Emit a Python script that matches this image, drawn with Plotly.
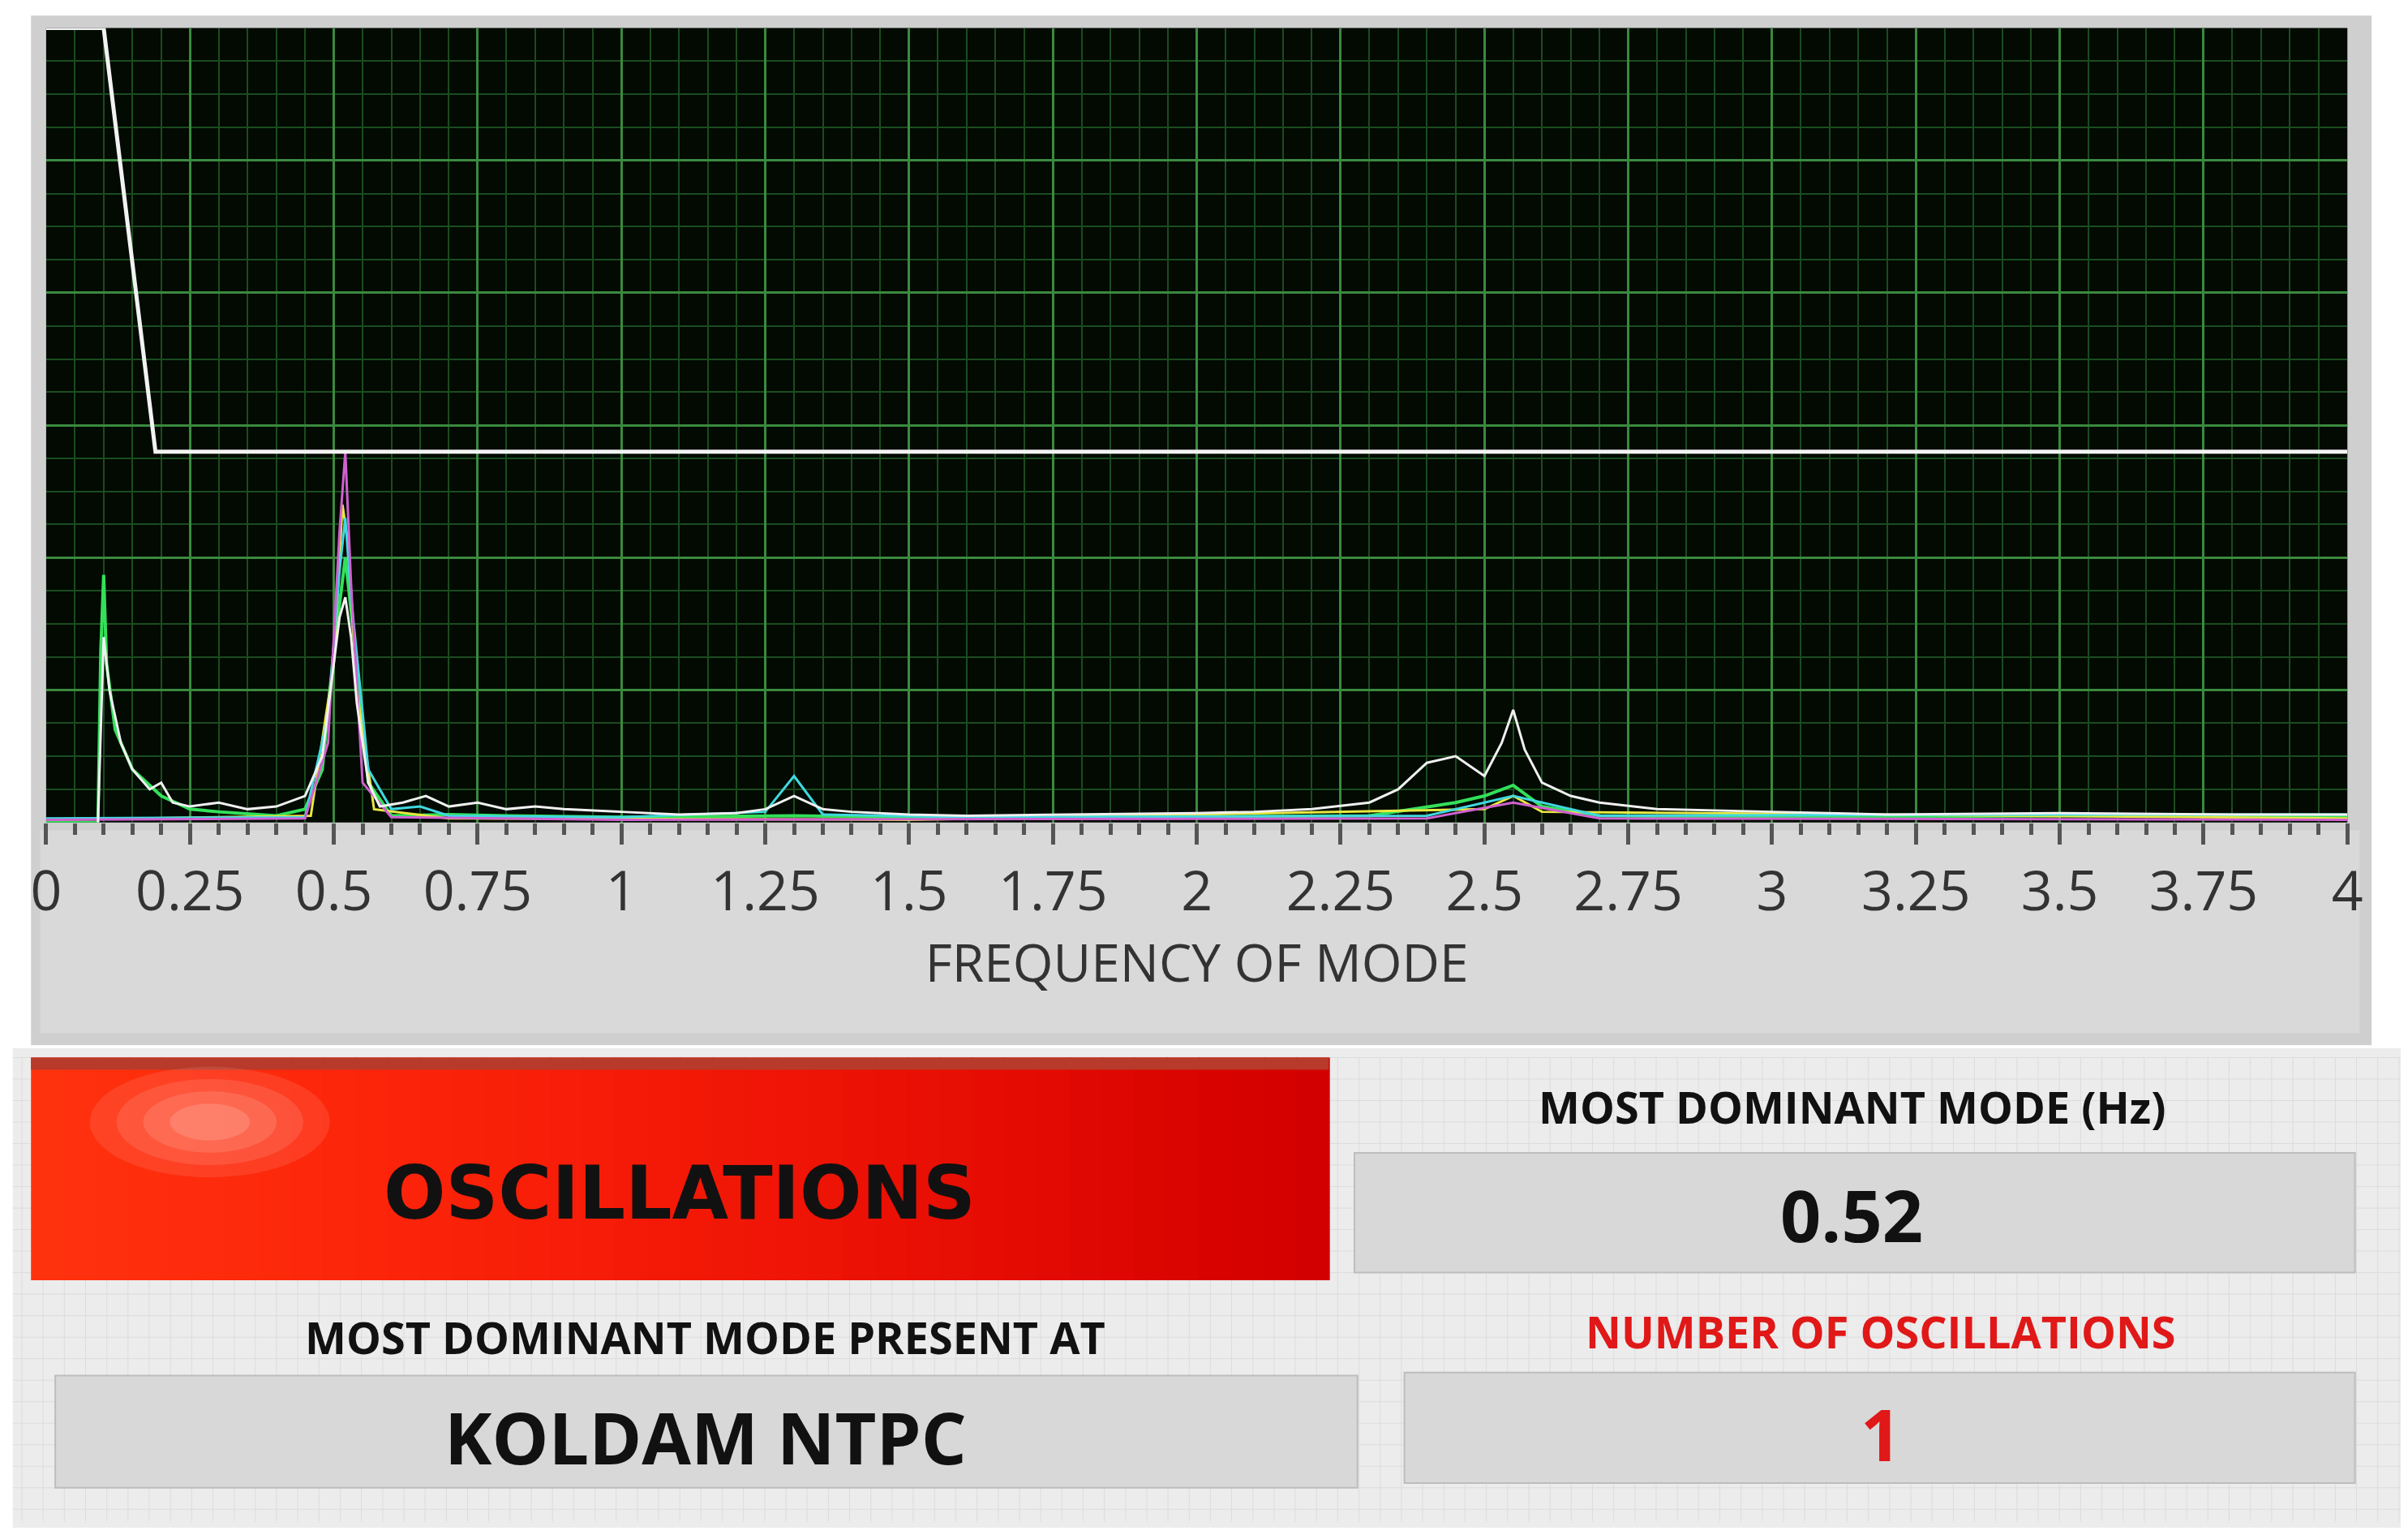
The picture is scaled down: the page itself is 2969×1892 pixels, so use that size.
import plotly.graph_objects as go

# ---------------- data ----------------
threshold_freq = [0, 0.1, 0.19, 4.0]
threshold_amp = [6.0, 6.0, 2.8, 2.8]

white_freq = [0.09,0.1,0.11,0.13,0.15,0.18,0.2,0.22,0.25,0.3,0.35,0.4,0.45,0.48,0.5,0.51,0.52,0.53,0.54,0.56,0.58,0.62,0.66,0.7,0.75,0.8,0.85,0.9,1.0,1.1,1.2,1.25,1.3,1.35,1.4,1.5,1.6,1.8,2.0,2.1,2.2,2.3,2.35,2.4,2.45,2.5,2.53,2.55,2.57,2.6,2.65,2.7,2.8,3.0,3.2,3.5,3.8,4.0]
white_amp = [0,1.4,1.0,0.6,0.4,0.25,0.3,0.15,0.12,0.15,0.1,0.12,0.2,0.5,1.2,1.55,1.7,1.4,0.9,0.3,0.12,0.15,0.2,0.12,0.15,0.1,0.12,0.1,0.08,0.06,0.07,0.1,0.2,0.1,0.08,0.06,0.05,0.06,0.07,0.08,0.1,0.15,0.25,0.45,0.5,0.35,0.6,0.85,0.55,0.3,0.2,0.15,0.1,0.08,0.06,0.07,0.06,0.06]

green_freq = [0.0,0.09,0.095,0.1,0.105,0.12,0.15,0.2,0.25,0.3,0.4,0.45,0.48,0.5,0.52,0.54,0.56,0.6,0.7,0.8,1.0,1.3,1.6,2.0,2.3,2.45,2.5,2.55,2.6,2.7,3.0,3.5,4.0]
green_amp = [0.0,0.0,1.3,1.87,1.2,0.7,0.4,0.2,0.1,0.08,0.05,0.1,0.4,1.3,2.0,1.2,0.3,0.05,0.06,0.05,0.04,0.05,0.03,0.04,0.05,0.15,0.2,0.28,0.12,0.05,0.04,0.05,0.05]

magenta_freq = [0.0,0.45,0.49,0.51,0.52,0.53,0.55,0.6,1.0,2.4,2.55,2.7,4.0]
magenta_amp = [0.02,0.03,0.6,2.2,2.8,1.8,0.3,0.04,0.02,0.03,0.15,0.03,0.02]

cyan_freq = [0.0,0.45,0.49,0.51,0.52,0.53,0.56,0.6,0.65,0.7,1.0,1.25,1.3,1.35,1.6,2.4,2.55,2.7,3.5,4.0]
cyan_amp = [0.03,0.04,0.8,1.9,2.3,1.7,0.4,0.1,0.12,0.05,0.04,0.08,0.35,0.06,0.04,0.05,0.2,0.05,0.06,0.06]

yellow_freq = [0.0,0.46,0.5,0.515,0.525,0.54,0.57,0.7,1.5,2.5,2.55,2.6,4.0]
yellow_amp = [0.02,0.05,1.2,2.4,2.1,1.0,0.1,0.03,0.02,0.1,0.2,0.08,0.03]

x_ticks = [0, 0.25, 0.5, 0.75, 1, 1.25, 1.5, 1.75, 2, 2.25, 2.5, 2.75, 3, 3.25, 3.5, 3.75, 4]
x_labels = ["0", "0.25", "0.5", "0.75", "1", "1.25", "1.5", "1.75", "2", "2.25", "2.5", "2.75", "3", "3.25", "3.5", "3.75", "4"]

status_text = "OSCILLATIONS"
mode_label = "MOST DOMINANT MODE (Hz)"
mode_value = "0.52"
loc_label = "MOST DOMINANT MODE PRESENT AT"
loc_value = "KOLDAM NTPC"
count_label = "NUMBER OF OSCILLATIONS"
count_value = "1"

# ---------------- layout helpers ----------------
W, H = 2952, 1875
def px(x): return (x - 6.0) / 1559.0
def py(y): return 1 - (y - 4.0) / 990.0

fig = go.Figure()
series = [
    (green_freq, green_amp, "#33e05a", 4),
    (yellow_freq, yellow_amp, "#e8e840", 3),
    (cyan_freq, cyan_amp, "#40d8e0", 3),
    (magenta_freq, magenta_amp, "#d060d0", 3),
    (white_freq, white_amp, "#f0f0f0", 3),
    (threshold_freq, threshold_amp, "#f2f2f2", 5),
]
for fx, fy, col, w in series:
    fig.add_trace(go.Scatter(x=fx, y=fy, mode="lines", line=dict(color=col, width=w), showlegend=False))

shapes = []
def rect(x0, y0, x1, y1, fill, line=None, layer="below", kind="rect"):
    shapes.append(dict(type=kind, xref="paper", yref="paper", x0=px(x0), x1=px(x1), y0=py(y1), y1=py(y0),
                       fillcolor=fill, line=dict(width=0 if line is None else 2, color=line or fill), layer=layer))

rect(0, 682, 1580, 1010, "#ececec")
for gx in range(6, 1580, 14):
    shapes.append(dict(type="line", xref="paper", yref="paper", x0=px(gx), x1=px(gx), y0=py(990), y1=py(688),
                       line=dict(color="#dcdcdc", width=1), layer="below"))
for gy in range(688, 990, 14):
    shapes.append(dict(type="line", xref="paper", yref="paper", x0=px(0), x1=px(1580), y0=py(gy), y1=py(gy),
                       line=dict(color="#dcdcdc", width=1), layer="below"))
rect(12, 10, 1556, 680, "#cfcfcf")
rect(18, 540, 1548, 672, "#d9d9d9")
rect(22, 18, 1540, 535, "#020a02")
n = 40
step = (868 - 12) / n
for i in range(n):
    t = i / (n - 1)
    r = int(255 - 45 * t ** 2)
    g = int(50 - 50 * t)
    b = int(14 - 14 * t)
    rect(12 + i * step, 688, 12 + (i + 1) * step + 0.8, 833, "rgb(%d,%d,%d)" % (r, max(g, 0), max(b, 0)))
rect(12, 688, 868, 696, "#b83a2a")
for k, a in enumerate([0.12, 0.14, 0.16, 0.2]):
    d = 36 - 8 * k
    rect(130 - 2.2 * d, 730 - d, 130 + 2.2 * d, 730 + d, "rgba(255,215,205,%.2f)" % a, kind="circle")
rect(885, 750, 1545, 828, "#d8d8d8", "#bdbdbd")
rect(28, 895, 887, 968, "#d8d8d8", "#bdbdbd")
rect(918, 893, 1545, 965, "#d8d8d8", "#bdbdbd")
fig.update_layout(shapes=shapes)

ann = []
def text(x, y, s, size, color="#111111", bold=True, family="Open Sans"):
    ann.append(dict(xref="paper", yref="paper", x=px(x), y=py(y), text=("<b>%s</b>" % s) if bold else s,
                    showarrow=False, xanchor="center", yanchor="middle",
                    font=dict(size=size, color=color, family=family)))
text(440, 776, status_text, 90, "#111111", True, "DejaVu Sans")
text(1213, 720, mode_label, 54)
text(1213, 790, mode_value, 88)
text(457, 870, loc_label, 54)
text(457, 935, loc_value, 88)
text(1232, 866, count_label, 54, "#e01818")
text(1232, 933, count_value, 88, "#e01818")
fig.update_layout(annotations=ann)

fig.update_layout(
    width=W, height=H, margin=dict(l=0, r=0, t=0, b=0),
    paper_bgcolor="#ffffff", plot_bgcolor="#020a02",
    xaxis=dict(domain=[px(22), px(1540)], range=[0, 4], tickvals=x_ticks, ticktext=x_labels,
               showgrid=True, gridcolor="#3a8a3e", gridwidth=3,
               minor=dict(dtick=0.05, showgrid=True, gridcolor="#1b4c1f", gridwidth=2,
                          ticks="outside", ticklen=14, tickwidth=5, tickcolor="#555"),
               ticks="outside", ticklen=26, tickwidth=5, tickcolor="#555",
               tickfont=dict(size=68, color="#333", family="Open Sans"),
               title=dict(text="FREQUENCY OF MODE", font=dict(size=64, color="#333", family="Open Sans"), standoff=20),
               zeroline=False, showline=False),
    yaxis=dict(domain=[py(535), py(18)], range=[0, 6], dtick=1, showgrid=True, gridcolor="#3a8a3e", gridwidth=3,
               minor=dict(dtick=0.25, showgrid=True, gridcolor="#1b4c1f", gridwidth=2),
               showticklabels=False, ticks="", zeroline=False, showline=False),
)
fig.write_html("out.html")
